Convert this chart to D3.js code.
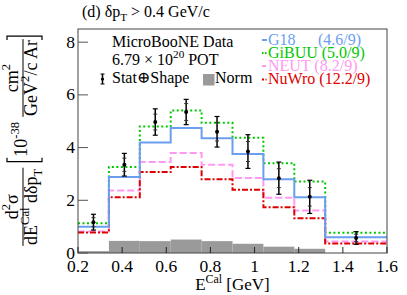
<!DOCTYPE html>
<html>
<head>
<meta charset="utf-8">
<script src="https://cdn.jsdelivr.net/npm/d3@7"></script>
<style>
  body { margin: 0; background: #fff; }
  svg { display: block; }
  text { font-family: "Liberation Serif", "DejaVu Serif", serif; white-space: pre; }
</style>
</head>
<body>
<script>
// bin edges in E^Cal [GeV] and per-bin values
var binEdges = [0.2, 0.34, 0.48, 0.62, 0.76, 0.9, 1.04, 1.18, 1.32, 1.6];
var dataVal  = [1.17, 3.35, 4.97, 5.35, 4.60, 3.85, 2.84, 2.13, 0.57];
var totErr   = [0.30, 0.43, 0.50, 0.48, 0.58, 0.64, 0.61, 0.63, 0.24];
var statErr  = [0.17, 0.25, 0.30, 0.32, 0.35, 0.38, 0.36, 0.35, 0.14];
var normErr  = [0.07, 0.46, 0.45, 0.51, 0.45, 0.35, 0.24, 0.16, 0.0];

var g18   = [1.00, 2.88, 4.19, 4.74, 4.35, 3.76, 2.80, 2.12, 0.60];
var gibuu = [1.13, 3.26, 4.80, 5.41, 4.94, 4.37, 3.41, 2.71, 0.77];
var neut  = [0.82, 2.37, 3.45, 3.79, 3.35, 2.85, 2.10, 1.61, 0.44];
var nuwro = [0.78, 2.12, 3.07, 3.26, 2.80, 2.40, 1.74, 1.32, 0.36];

var modelNames = ["G18", "GiBUU", "NEUT", "NuWro"];
var chi2Labels = ["(4.6/9)", "(5.0/9)", "(8.2/9)", "(12.2/9)"];
var xTicks = [0.2, 0.4, 0.6, 0.8, 1.0, 1.2, 1.4, 1.6];
var yTicks = [0, 2, 4, 6, 8];

var models = [
  {name: modelNames[1], chi: chi2Labels[1], vals: gibuu, color: "#00c800", dash: "2,2.5", legDash: "1.5,1.5"},
  {name: modelNames[2], chi: chi2Labels[2], vals: neut,  color: "#ff99f2", dash: "7,3", legDash: "4,1"},
  {name: modelNames[3], chi: chi2Labels[3], vals: nuwro, color: "#dd0000", dash: "6,2,2,2", legDash: "2,1.5,1,1.5"},
  {name: modelNames[0], chi: chi2Labels[0], vals: g18,   color: "#6c9ef0", dash: null, legDash: null}
];

var W = 407, H = 295;
var margin = {top: 29, right: 20, bottom: 42, left: 78};
var width = W - margin.left - margin.right,
    height = H - margin.top - margin.bottom;

var svg = d3.select("body").append("svg")
    .attr("width", W)
    .attr("height", H);

var x = d3.scaleLinear().domain([0.2, 1.6]).range([margin.left, margin.left + width]);
var y = d3.scaleLinear().domain([0, 8.5]).range([margin.top + height, margin.top]);

// rich text helper: parts = [[string, "n"|"sup"|"sub"], ...]
function rich(text, parts, fs) {
  var off = 0;
  parts.forEach(function(p) {
    var target = p[1] === "sup" ? -fs * 0.42 : (p[1] === "sub" ? fs * 0.28 : 0);
    text.append("tspan")
      .attr("dy", target - off)
      .attr("font-size", p[1] === "n" ? fs : fs * 0.7)
      .text(p[0]);
    off = target;
  });
  return text;
}

var bins = d3.range(binEdges.length - 1);

// norm uncertainty bars
svg.append("g").selectAll("rect")
  .data(bins)
  .enter().append("rect")
    .attr("x", function(i) { return x(binEdges[i]); })
    .attr("width", function(i) { return x(binEdges[i + 1]) - x(binEdges[i]); })
    .attr("y", function(i) { return y(normErr[i]); })
    .attr("height", function(i) { return y(0) - y(normErr[i]); })
    .style("fill", "#9a9a9a");

// model histograms
var line = d3.line()
  .x(function(d) { return x(d[0]); })
  .y(function(d) { return y(d[1]); });

models.forEach(function(m) {
  var pts = [];
  bins.forEach(function(i) {
    pts.push([binEdges[i], m.vals[i]]);
    pts.push([binEdges[i + 1], m.vals[i]]);
  });
  svg.append("path")
    .attr("d", line(pts))
    .style("fill", "none")
    .style("stroke", m.color)
    .style("stroke-width", 2)
    .style("stroke-dasharray", m.dash);
});

// data points with error bars
var pts = svg.append("g").selectAll("g")
  .data(bins)
  .enter().append("g")
    .attr("transform", function(i) { return "translate(" + x((binEdges[i] + binEdges[i + 1]) / 2) + ",0)"; });

pts.append("line")
  .attr("y1", function(i) { return y(dataVal[i] - totErr[i]); })
  .attr("y2", function(i) { return y(dataVal[i] + totErr[i]); })
  .style("stroke", "#000").style("stroke-width", 1.5);
[1, -1].forEach(function(s) {
  pts.append("line")
    .attr("x1", -2.5).attr("x2", 2.5)
    .attr("y1", function(i) { return y(dataVal[i] + s * totErr[i]); })
    .attr("y2", function(i) { return y(dataVal[i] + s * totErr[i]); })
    .style("stroke", "#000").style("stroke-width", 1.2);
  pts.append("line")
    .attr("x1", -2).attr("x2", 2)
    .attr("y1", function(i) { return y(dataVal[i] + s * statErr[i]); })
    .attr("y2", function(i) { return y(dataVal[i] + s * statErr[i]); })
    .style("stroke", "#333").style("stroke-width", 1);
});
pts.append("circle")
  .attr("cy", function(i) { return y(dataVal[i]); })
  .attr("r", 2)
  .style("fill", "#000");

// frame
svg.append("rect")
  .attr("x", margin.left).attr("y", margin.top)
  .attr("width", width).attr("height", height)
  .style("fill", "none").style("stroke", "#444").style("stroke-width", 1);

// x ticks (inside) and labels
svg.append("g").selectAll("line")
  .data(xTicks)
  .enter().append("line")
    .attr("x1", function(d) { return x(d); }).attr("x2", function(d) { return x(d); })
    .attr("y1", y(0)).attr("y2", y(0) - 6)
    .style("stroke", "#222");
svg.append("g").selectAll("text")
  .data(xTicks)
  .enter().append("text")
    .attr("x", function(d) { return x(d); })
    .attr("y", y(0) + 19)
    .attr("text-anchor", "middle")
    .attr("font-size", 17.5)
    .text(function(d) { return d3.format("")(+d.toFixed(1)); });

// y ticks and labels
svg.append("g").selectAll("line")
  .data(yTicks)
  .enter().append("line")
    .attr("x1", x(0.2)).attr("x2", x(0.2) + 10)
    .attr("y1", function(d) { return y(d); }).attr("y2", function(d) { return y(d); })
    .style("stroke", "#555");
svg.append("g").selectAll("text")
  .data(yTicks)
  .enter().append("text")
    .attr("x", x(0.2) - 3)
    .attr("y", function(d) { return y(d) + 5.5; })
    .attr("text-anchor", "end")
    .attr("font-size", 17.5)
    .text(function(d) { return d; });

// title
rich(svg.append("text").attr("x", 82).attr("y", 17), [["(d) δp", "n"], ["T", "sub"], [" > 0.4 GeV/c", "n"]], 16);

// x axis title
rich(svg.append("text").attr("x", x(0.9)).attr("y", 290).attr("text-anchor", "middle"),
  [["E", "n"], ["Cal", "sup"], [" [GeV]", "n"]], 17);

// y axis title, built in rotated coordinates
var yl = svg.append("g");
var fs = 18, cur = 0;
function frac(num, den) {
  var tn = rich(yl.append("text").attr("text-anchor", "middle").attr("y", -5), num, fs);
  var td = rich(yl.append("text").attr("text-anchor", "middle").attr("y", 14), den, fs);
  var w = Math.max(tn.node().getComputedTextLength(), td.node().getComputedTextLength()) + 2;
  tn.attr("x", cur + w / 2);
  td.attr("x", cur + w / 2);
  yl.append("line").attr("x1", cur).attr("x2", cur + w).attr("y1", 0).attr("y2", 0)
    .style("stroke", "#000").style("stroke-width", 1);
  cur += w;
}
frac([["d", "n"], ["2", "sup"], ["σ", "n"]], [["dE", "n"], ["Cal", "sup"], [" dδp", "n"], ["T", "sub"]]);
cur += 6;
yl.append("path").attr("d", "M" + (cur + 4) + ",-16H" + cur + "V19H" + (cur + 4))
  .style("fill", "none").style("stroke", "#000").style("stroke-width", 1.2);
cur += 5;
var t10 = rich(yl.append("text").attr("x", cur).attr("y", 4), [["10", "n"], ["-38", "sup"]], fs);
cur += t10.node().getComputedTextLength() + 5;
frac([["cm", "n"], ["2", "sup"]], [["GeV", "n"], ["2", "sup"], ["/c Ar", "n"]]);
cur += 3;
yl.append("path").attr("d", "M" + (cur - 4) + ",-16H" + cur + "V19H" + (cur - 4))
  .style("fill", "none").style("stroke", "#000").style("stroke-width", 1.2);
yl.attr("transform", "translate(23," + ((margin.top + y(0)) / 2 + cur / 2) + ") rotate(-90)");

// left legend
rich(svg.append("text").attr("x", 112).attr("y", 47), [["MicroBooNE Data", "n"]], 16);
rich(svg.append("text").attr("x", 112).attr("y", 64.5), [["6.79 × 10", "n"], ["20", "sup"], [" POT", "n"]], 16);
var ic = svg.append("g").attr("transform", "translate(102.5,79)");
ic.append("line").attr("y1", -5).attr("y2", 5).style("stroke", "#000").style("stroke-width", 1.5);
[-5, 5].forEach(function(v) {
  ic.append("line").attr("x1", -2).attr("x2", 2).attr("y1", v).attr("y2", v).style("stroke", "#000");
});
ic.append("circle").attr("r", 1.6).style("fill", "#000");
rich(svg.append("text").attr("x", 112).attr("y", 83), [["Stat⊕Shape", "n"]], 16);
svg.append("rect").attr("x", 203).attr("y", 74).attr("width", 11.5).attr("height", 11.5).style("fill", "#9a9a9a");
rich(svg.append("text").attr("x", 215).attr("y", 83), [["Norm", "n"]], 16);

// right legend
var legOrder = [3, 0, 1, 2];
var legY = [44.5, 57.5, 70.5, 84];
legOrder.forEach(function(k, j) {
  var m = models[k];
  svg.append("line")
    .attr("x1", 262).attr("x2", 267)
    .attr("y1", legY[j] - 4.5).attr("y2", legY[j] - 4.5)
    .style("stroke", m.color).style("stroke-width", 2)
    .style("stroke-dasharray", m.legDash);
  if (m.name === "G18") {
    svg.append("text").attr("x", 268).attr("y", legY[j]).attr("font-size", 16).style("fill", m.color).text(m.name);
    svg.append("text").attr("x", 318).attr("y", legY[j]).attr("font-size", 16).style("fill", m.color).text(m.chi);
  } else {
    svg.append("text").attr("x", 268).attr("y", legY[j]).attr("font-size", 16).style("fill", m.color).text(m.name + " " + m.chi);
  }
});
</script>
</body>
</html>
